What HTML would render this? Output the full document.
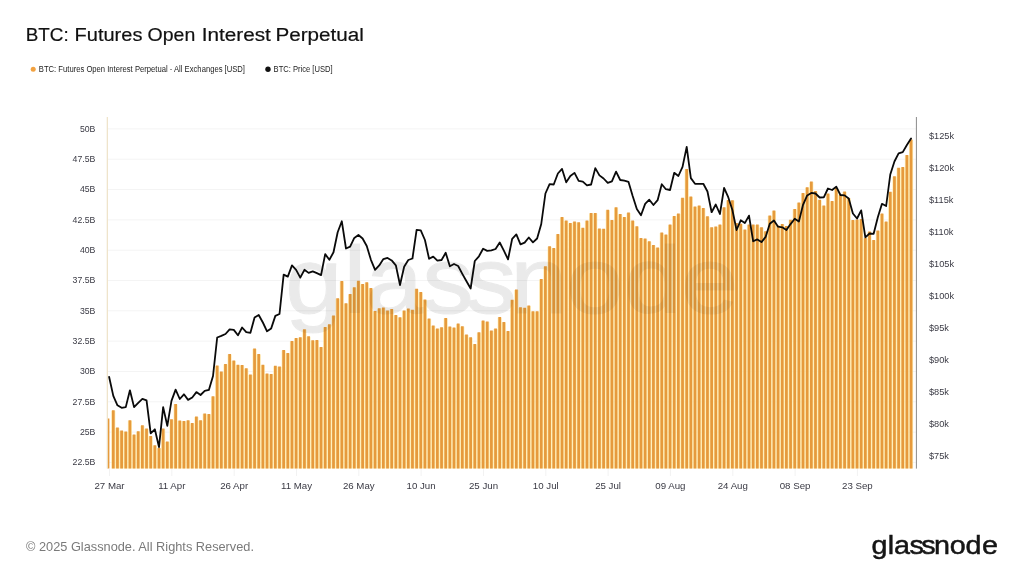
<!DOCTYPE html>
<html lang="en"><head><meta charset="utf-8"><title>BTC: Futures Open Interest Perpetual</title>
<style>html,body{margin:0;padding:0;background:#fff}body{width:1024px;height:576px;overflow:hidden;font-family:"Liberation Sans",sans-serif}svg{display:block}text{font-family:"Liberation Sans",sans-serif}</style></head><body>
<svg width="1024" height="576" viewBox="0 0 1024 576">
<rect width="1024" height="576" fill="#ffffff"/>
<text y="40.9" font-size="19.2" fill="#111111" stroke="#111111" stroke-width="0.2"><tspan x="25.75" textLength="42.9" lengthAdjust="spacingAndGlyphs">BTC:</tspan> <tspan x="74.6" textLength="67.8" lengthAdjust="spacingAndGlyphs">Futures</tspan> <tspan x="147.6" textLength="47.7" lengthAdjust="spacingAndGlyphs">Open</tspan> <tspan x="201.7" textLength="69.2" lengthAdjust="spacingAndGlyphs">Interest</tspan> <tspan x="275.4" textLength="88.4" lengthAdjust="spacingAndGlyphs">Perpetual</tspan></text>
<circle cx="33.2" cy="69.2" r="2.5" fill="#F2A241"/>
<text x="38.8" y="72.1" font-size="8.4" fill="#1c1c1c" textLength="206.2" lengthAdjust="spacingAndGlyphs">BTC: Futures Open Interest Perpetual - All Exchanges [USD]</text>
<circle cx="268.0" cy="69.2" r="2.7" fill="#111111"/>
<text x="273.6" y="72.1" font-size="8.4" fill="#1c1c1c" textLength="59" lengthAdjust="spacingAndGlyphs">BTC: Price [USD]</text>
<g stroke="#f4f4f4" stroke-width="1">
<line x1="108" y1="128.9" x2="916" y2="128.9"/>
<line x1="108" y1="159.2" x2="916" y2="159.2"/>
<line x1="108" y1="189.5" x2="916" y2="189.5"/>
<line x1="108" y1="219.9" x2="916" y2="219.9"/>
<line x1="108" y1="250.2" x2="916" y2="250.2"/>
<line x1="108" y1="280.5" x2="916" y2="280.5"/>
<line x1="108" y1="310.8" x2="916" y2="310.8"/>
<line x1="108" y1="341.1" x2="916" y2="341.1"/>
<line x1="108" y1="371.5" x2="916" y2="371.5"/>
<line x1="108" y1="401.8" x2="916" y2="401.8"/>
<line x1="108" y1="432.1" x2="916" y2="432.1"/>
<line x1="108" y1="462.4" x2="916" y2="462.4"/>
</g>
<g font-size="9.2" fill="#3a3a44" text-anchor="end">
<text x="95.4" y="131.7" textLength="15.5" lengthAdjust="spacingAndGlyphs">50B</text>
<text x="95.4" y="162.0" textLength="22.8" lengthAdjust="spacingAndGlyphs">47.5B</text>
<text x="95.4" y="192.3" textLength="15.5" lengthAdjust="spacingAndGlyphs">45B</text>
<text x="95.4" y="222.7" textLength="22.8" lengthAdjust="spacingAndGlyphs">42.5B</text>
<text x="95.4" y="253.0" textLength="15.5" lengthAdjust="spacingAndGlyphs">40B</text>
<text x="95.4" y="283.3" textLength="22.8" lengthAdjust="spacingAndGlyphs">37.5B</text>
<text x="95.4" y="313.6" textLength="15.5" lengthAdjust="spacingAndGlyphs">35B</text>
<text x="95.4" y="343.9" textLength="22.8" lengthAdjust="spacingAndGlyphs">32.5B</text>
<text x="95.4" y="374.3" textLength="15.5" lengthAdjust="spacingAndGlyphs">30B</text>
<text x="95.4" y="404.6" textLength="22.8" lengthAdjust="spacingAndGlyphs">27.5B</text>
<text x="95.4" y="434.9" textLength="15.5" lengthAdjust="spacingAndGlyphs">25B</text>
<text x="95.4" y="465.2" textLength="22.8" lengthAdjust="spacingAndGlyphs">22.5B</text>
</g>
<g font-size="9.2" fill="#3a3a44">
<text x="929" y="139.2">$125k</text>
<text x="929" y="171.2">$120k</text>
<text x="929" y="203.1">$115k</text>
<text x="929" y="235.1">$110k</text>
<text x="929" y="267.0">$105k</text>
<text x="929" y="298.9">$100k</text>
<text x="929" y="330.9">$95k</text>
<text x="929" y="362.9">$90k</text>
<text x="929" y="394.8">$85k</text>
<text x="929" y="426.8">$80k</text>
<text x="929" y="458.7">$75k</text>
</g>
<g font-size="9.7" fill="#3a3a44" text-anchor="middle">
<text x="109.5" y="488.9">27 Mar</text>
<text x="171.8" y="488.9">11 Apr</text>
<text x="234.2" y="488.9">26 Apr</text>
<text x="296.5" y="488.9">11 May</text>
<text x="358.8" y="488.9">26 May</text>
<text x="421.1" y="488.9">10 Jun</text>
<text x="483.5" y="488.9">25 Jun</text>
<text x="545.8" y="488.9">10 Jul</text>
<text x="608.1" y="488.9">25 Jul</text>
<text x="670.4" y="488.9">09 Aug</text>
<text x="732.8" y="488.9">24 Aug</text>
<text x="795.1" y="488.9">08 Sep</text>
<text x="857.4" y="488.9">23 Sep</text>
</g>
<g stroke="#f2f2f2" stroke-width="1">
<line x1="109.5" y1="469" x2="109.5" y2="476"/>
<line x1="171.8" y1="469" x2="171.8" y2="476"/>
<line x1="234.2" y1="469" x2="234.2" y2="476"/>
<line x1="296.5" y1="469" x2="296.5" y2="476"/>
<line x1="358.8" y1="469" x2="358.8" y2="476"/>
<line x1="421.1" y1="469" x2="421.1" y2="476"/>
<line x1="483.5" y1="469" x2="483.5" y2="476"/>
<line x1="545.8" y1="469" x2="545.8" y2="476"/>
<line x1="608.1" y1="469" x2="608.1" y2="476"/>
<line x1="670.4" y1="469" x2="670.4" y2="476"/>
<line x1="732.8" y1="469" x2="732.8" y2="476"/>
<line x1="795.1" y1="469" x2="795.1" y2="476"/>
<line x1="857.4" y1="469" x2="857.4" y2="476"/>
</g>
<g opacity="0.022"><text transform="scale(1.08,1)" x="264.08 318.06 338.68 391.08 430.89 472.47 524.34 578.07 630.82" y="312.6" font-size="95" fill="#000" stroke="#000" stroke-width="1.2">glassnode</text></g>
<path fill="#FFE9A0" fill-opacity="0.7" d="M111.22 468.4V410.8h4.155V468.4ZM115.38 468.4V428.0h4.155V468.4ZM119.53 468.4V431.0h4.155V468.4ZM123.69 468.4V432.0h4.155V468.4ZM127.84 468.4V420.8h4.155V468.4ZM132.00 468.4V435.1h4.155V468.4ZM136.15 468.4V431.8h4.155V468.4ZM140.31 468.4V425.8h4.155V468.4ZM144.46 468.4V428.9h4.155V468.4ZM148.62 468.4V436.4h4.155V468.4ZM152.77 468.4V445.8h4.155V468.4ZM156.93 468.4V448.5h4.155V468.4ZM161.08 468.4V428.9h4.155V468.4ZM165.24 468.4V442.0h4.155V468.4ZM169.39 468.4V419.8h4.155V468.4ZM173.55 468.4V404.5h4.155V468.4ZM177.70 468.4V421.1h4.155V468.4ZM181.86 468.4V421.6h4.155V468.4ZM186.01 468.4V420.8h4.155V468.4ZM190.17 468.4V423.5h4.155V468.4ZM194.32 468.4V417.0h4.155V468.4ZM198.48 468.4V420.8h4.155V468.4ZM202.63 468.4V413.9h4.155V468.4ZM206.79 468.4V414.5h4.155V468.4ZM210.94 468.4V396.7h4.155V468.4ZM215.10 468.4V365.9h4.155V468.4ZM219.25 468.4V372.1h4.155V468.4ZM223.41 468.4V364.6h4.155V468.4ZM227.56 468.4V354.6h4.155V468.4ZM231.72 468.4V360.9h4.155V468.4ZM235.87 468.4V365.3h4.155V468.4ZM240.03 468.4V365.6h4.155V468.4ZM244.18 468.4V368.8h4.155V468.4ZM248.34 468.4V375.0h4.155V468.4ZM252.49 468.4V349.0h4.155V468.4ZM256.65 468.4V354.6h4.155V468.4ZM260.80 468.4V365.3h4.155V468.4ZM264.96 468.4V374.0h4.155V468.4ZM269.11 468.4V374.4h4.155V468.4ZM273.27 468.4V366.3h4.155V468.4ZM277.42 468.4V366.9h4.155V468.4ZM281.58 468.4V350.5h4.155V468.4ZM285.73 468.4V353.6h4.155V468.4ZM289.89 468.4V341.5h4.155V468.4ZM294.04 468.4V338.5h4.155V468.4ZM298.20 468.4V337.7h4.155V468.4ZM302.35 468.4V329.8h4.155V468.4ZM306.51 468.4V336.7h4.155V468.4ZM310.66 468.4V340.7h4.155V468.4ZM314.82 468.4V340.5h4.155V468.4ZM318.97 468.4V347.5h4.155V468.4ZM323.13 468.4V327.5h4.155V468.4ZM327.28 468.4V324.8h4.155V468.4ZM331.44 468.4V316.0h4.155V468.4ZM335.59 468.4V298.8h4.155V468.4ZM339.75 468.4V281.5h4.155V468.4ZM343.90 468.4V303.8h4.155V468.4ZM348.06 468.4V294.6h4.155V468.4ZM352.21 468.4V287.8h4.155V468.4ZM356.37 468.4V281.3h4.155V468.4ZM360.52 468.4V284.6h4.155V468.4ZM364.68 468.4V282.8h4.155V468.4ZM368.83 468.4V288.5h4.155V468.4ZM372.99 468.4V311.6h4.155V468.4ZM377.14 468.4V308.8h4.155V468.4ZM381.30 468.4V307.9h4.155V468.4ZM385.45 468.4V311.0h4.155V468.4ZM389.61 468.4V309.4h4.155V468.4ZM393.76 468.4V315.6h4.155V468.4ZM397.92 468.4V317.8h4.155V468.4ZM402.07 468.4V310.9h4.155V468.4ZM406.23 468.4V309.0h4.155V468.4ZM410.38 468.4V310.3h4.155V468.4ZM414.54 468.4V289.2h4.155V468.4ZM418.69 468.4V292.5h4.155V468.4ZM422.85 468.4V299.9h4.155V468.4ZM427.00 468.4V319.0h4.155V468.4ZM431.16 468.4V326.1h4.155V468.4ZM435.31 468.4V329.0h4.155V468.4ZM439.47 468.4V327.8h4.155V468.4ZM443.62 468.4V318.6h4.155V468.4ZM447.78 468.4V327.0h4.155V468.4ZM451.93 468.4V328.0h4.155V468.4ZM456.09 468.4V324.0h4.155V468.4ZM460.24 468.4V326.8h4.155V468.4ZM464.40 468.4V335.1h4.155V468.4ZM468.55 468.4V337.8h4.155V468.4ZM472.71 468.4V344.5h4.155V468.4ZM476.86 468.4V332.8h4.155V468.4ZM481.02 468.4V321.1h4.155V468.4ZM485.17 468.4V322.0h4.155V468.4ZM489.33 468.4V330.9h4.155V468.4ZM493.48 468.4V328.9h4.155V468.4ZM497.64 468.4V317.4h4.155V468.4ZM501.79 468.4V322.4h4.155V468.4ZM505.95 468.4V331.5h4.155V468.4ZM510.10 468.4V300.3h4.155V468.4ZM514.26 468.4V289.9h4.155V468.4ZM518.41 468.4V307.8h4.155V468.4ZM522.57 468.4V308.3h4.155V468.4ZM526.72 468.4V305.9h4.155V468.4ZM530.88 468.4V311.8h4.155V468.4ZM535.03 468.4V311.8h4.155V468.4ZM539.19 468.4V279.5h4.155V468.4ZM543.34 468.4V266.8h4.155V468.4ZM547.50 468.4V246.8h4.155V468.4ZM551.65 468.4V248.6h4.155V468.4ZM555.81 468.4V234.5h4.155V468.4ZM559.96 468.4V217.4h4.155V468.4ZM564.12 468.4V221.1h4.155V468.4ZM568.27 468.4V223.4h4.155V468.4ZM572.43 468.4V222.1h4.155V468.4ZM576.58 468.4V222.8h4.155V468.4ZM580.74 468.4V228.3h4.155V468.4ZM584.89 468.4V221.1h4.155V468.4ZM589.05 468.4V213.6h4.155V468.4ZM593.20 468.4V213.6h4.155V468.4ZM597.36 468.4V229.0h4.155V468.4ZM601.51 468.4V229.3h4.155V468.4ZM605.67 468.4V210.3h4.155V468.4ZM609.82 468.4V220.5h4.155V468.4ZM613.98 468.4V207.8h4.155V468.4ZM618.13 468.4V214.6h4.155V468.4ZM622.29 468.4V217.4h4.155V468.4ZM626.44 468.4V213.0h4.155V468.4ZM630.60 468.4V221.1h4.155V468.4ZM634.75 468.4V226.8h4.155V468.4ZM638.91 468.4V238.6h4.155V468.4ZM643.06 468.4V238.9h4.155V468.4ZM647.22 468.4V241.8h4.155V468.4ZM651.37 468.4V245.5h4.155V468.4ZM655.53 468.4V247.9h4.155V468.4ZM659.68 468.4V233.0h4.155V468.4ZM663.84 468.4V234.9h4.155V468.4ZM667.99 468.4V224.9h4.155V468.4ZM672.15 468.4V216.5h4.155V468.4ZM676.30 468.4V213.9h4.155V468.4ZM680.46 468.4V198.2h4.155V468.4ZM684.61 468.4V169.5h4.155V468.4ZM688.77 468.4V197.1h4.155V468.4ZM692.92 468.4V207.1h4.155V468.4ZM697.08 468.4V206.1h4.155V468.4ZM701.23 468.4V208.6h4.155V468.4ZM705.39 468.4V216.8h4.155V468.4ZM709.54 468.4V227.8h4.155V468.4ZM713.70 468.4V227.1h4.155V468.4ZM717.85 468.4V224.9h4.155V468.4ZM722.01 468.4V207.8h4.155V468.4ZM726.16 468.4V200.5h4.155V468.4ZM730.32 468.4V200.8h4.155V468.4ZM734.47 468.4V223.5h4.155V468.4ZM738.63 468.4V224.3h4.155V468.4ZM742.78 468.4V229.9h4.155V468.4ZM746.94 468.4V224.9h4.155V468.4ZM751.09 468.4V224.9h4.155V468.4ZM755.25 468.4V224.9h4.155V468.4ZM759.40 468.4V227.8h4.155V468.4ZM763.56 468.4V231.8h4.155V468.4ZM767.71 468.4V215.9h4.155V468.4ZM771.87 468.4V210.9h4.155V468.4ZM776.02 468.4V226.0h4.155V468.4ZM780.18 468.4V224.6h4.155V468.4ZM784.33 468.4V226.5h4.155V468.4ZM788.49 468.4V220.3h4.155V468.4ZM792.64 468.4V209.6h4.155V468.4ZM796.80 468.4V203.1h4.155V468.4ZM800.95 468.4V193.4h4.155V468.4ZM805.11 468.4V187.8h4.155V468.4ZM809.26 468.4V182.1h4.155V468.4ZM813.42 468.4V191.5h4.155V468.4ZM817.57 468.4V200.3h4.155V468.4ZM821.73 468.4V205.9h4.155V468.4ZM825.88 468.4V194.0h4.155V468.4ZM830.04 468.4V201.5h4.155V468.4ZM834.19 468.4V188.4h4.155V468.4ZM838.35 468.4V195.3h4.155V468.4ZM842.50 468.4V192.1h4.155V468.4ZM846.66 468.4V198.4h4.155V468.4ZM850.81 468.4V220.5h4.155V468.4ZM854.97 468.4V220.0h4.155V468.4ZM859.12 468.4V219.6h4.155V468.4ZM863.28 468.4V238.6h4.155V468.4ZM867.43 468.4V232.1h4.155V468.4ZM871.59 468.4V240.5h4.155V468.4ZM875.74 468.4V230.9h4.155V468.4ZM879.90 468.4V214.0h4.155V468.4ZM884.05 468.4V222.1h4.155V468.4ZM888.21 468.4V192.3h4.155V468.4ZM892.36 468.4V176.8h4.155V468.4ZM896.52 468.4V168.3h4.155V468.4ZM900.67 468.4V167.6h4.155V468.4ZM904.83 468.4V155.5h4.155V468.4ZM908.98 468.4V140.1h4.155V468.4Z"/>
<path fill="#E69A3C" d="M107.6 468.4V418.4H109.4V468.4ZM111.92 468.4V410.3h2.75V468.4ZM116.08 468.4V427.5h2.75V468.4ZM120.23 468.4V430.5h2.75V468.4ZM124.39 468.4V431.5h2.75V468.4ZM128.54 468.4V420.3h2.75V468.4ZM132.70 468.4V434.6h2.75V468.4ZM136.85 468.4V431.3h2.75V468.4ZM141.01 468.4V425.3h2.75V468.4ZM145.16 468.4V428.4h2.75V468.4ZM149.32 468.4V435.9h2.75V468.4ZM153.47 468.4V445.3h2.75V468.4ZM157.63 468.4V448.0h2.75V468.4ZM161.78 468.4V428.4h2.75V468.4ZM165.94 468.4V441.5h2.75V468.4ZM170.09 468.4V419.3h2.75V468.4ZM174.25 468.4V404.0h2.75V468.4ZM178.41 468.4V420.6h2.75V468.4ZM182.56 468.4V421.1h2.75V468.4ZM186.72 468.4V420.3h2.75V468.4ZM190.87 468.4V423.0h2.75V468.4ZM195.03 468.4V416.5h2.75V468.4ZM199.18 468.4V420.3h2.75V468.4ZM203.34 468.4V413.4h2.75V468.4ZM207.49 468.4V414.0h2.75V468.4ZM211.64 468.4V396.2h2.75V468.4ZM215.80 468.4V365.4h2.75V468.4ZM219.95 468.4V371.6h2.75V468.4ZM224.11 468.4V364.1h2.75V468.4ZM228.26 468.4V354.1h2.75V468.4ZM232.42 468.4V360.4h2.75V468.4ZM236.57 468.4V364.8h2.75V468.4ZM240.73 468.4V365.1h2.75V468.4ZM244.88 468.4V368.3h2.75V468.4ZM249.04 468.4V374.5h2.75V468.4ZM253.19 468.4V348.5h2.75V468.4ZM257.35 468.4V354.1h2.75V468.4ZM261.50 468.4V364.8h2.75V468.4ZM265.66 468.4V373.5h2.75V468.4ZM269.81 468.4V373.9h2.75V468.4ZM273.97 468.4V365.8h2.75V468.4ZM278.12 468.4V366.4h2.75V468.4ZM282.28 468.4V350.0h2.75V468.4ZM286.44 468.4V353.1h2.75V468.4ZM290.59 468.4V341.0h2.75V468.4ZM294.75 468.4V338.0h2.75V468.4ZM298.90 468.4V337.2h2.75V468.4ZM303.06 468.4V329.3h2.75V468.4ZM307.21 468.4V336.2h2.75V468.4ZM311.37 468.4V340.2h2.75V468.4ZM315.52 468.4V340.0h2.75V468.4ZM319.68 468.4V347.0h2.75V468.4ZM323.83 468.4V327.0h2.75V468.4ZM327.99 468.4V324.3h2.75V468.4ZM332.14 468.4V315.5h2.75V468.4ZM336.30 468.4V298.3h2.75V468.4ZM340.45 468.4V281.0h2.75V468.4ZM344.61 468.4V303.3h2.75V468.4ZM348.76 468.4V294.1h2.75V468.4ZM352.92 468.4V287.3h2.75V468.4ZM357.07 468.4V280.8h2.75V468.4ZM361.23 468.4V284.1h2.75V468.4ZM365.38 468.4V282.3h2.75V468.4ZM369.54 468.4V288.0h2.75V468.4ZM373.69 468.4V311.1h2.75V468.4ZM377.85 468.4V308.3h2.75V468.4ZM382.00 468.4V307.4h2.75V468.4ZM386.16 468.4V310.5h2.75V468.4ZM390.31 468.4V308.9h2.75V468.4ZM394.47 468.4V315.1h2.75V468.4ZM398.62 468.4V317.3h2.75V468.4ZM402.78 468.4V310.4h2.75V468.4ZM406.93 468.4V308.5h2.75V468.4ZM411.09 468.4V309.8h2.75V468.4ZM415.24 468.4V288.7h2.75V468.4ZM419.40 468.4V292.0h2.75V468.4ZM423.55 468.4V299.4h2.75V468.4ZM427.71 468.4V318.5h2.75V468.4ZM431.86 468.4V325.6h2.75V468.4ZM436.02 468.4V328.5h2.75V468.4ZM440.17 468.4V327.3h2.75V468.4ZM444.33 468.4V318.1h2.75V468.4ZM448.48 468.4V326.5h2.75V468.4ZM452.64 468.4V327.5h2.75V468.4ZM456.79 468.4V323.5h2.75V468.4ZM460.95 468.4V326.3h2.75V468.4ZM465.10 468.4V334.6h2.75V468.4ZM469.26 468.4V337.3h2.75V468.4ZM473.41 468.4V344.0h2.75V468.4ZM477.57 468.4V332.3h2.75V468.4ZM481.72 468.4V320.6h2.75V468.4ZM485.88 468.4V321.5h2.75V468.4ZM490.03 468.4V330.4h2.75V468.4ZM494.19 468.4V328.4h2.75V468.4ZM498.34 468.4V316.9h2.75V468.4ZM502.50 468.4V321.9h2.75V468.4ZM506.65 468.4V331.0h2.75V468.4ZM510.80 468.4V299.8h2.75V468.4ZM514.96 468.4V289.4h2.75V468.4ZM519.12 468.4V307.3h2.75V468.4ZM523.27 468.4V307.8h2.75V468.4ZM527.42 468.4V305.4h2.75V468.4ZM531.58 468.4V311.3h2.75V468.4ZM535.74 468.4V311.3h2.75V468.4ZM539.89 468.4V279.0h2.75V468.4ZM544.04 468.4V266.3h2.75V468.4ZM548.20 468.4V246.3h2.75V468.4ZM552.36 468.4V248.1h2.75V468.4ZM556.51 468.4V234.0h2.75V468.4ZM560.66 468.4V216.9h2.75V468.4ZM564.82 468.4V220.6h2.75V468.4ZM568.98 468.4V222.9h2.75V468.4ZM573.13 468.4V221.6h2.75V468.4ZM577.28 468.4V222.3h2.75V468.4ZM581.44 468.4V227.8h2.75V468.4ZM585.60 468.4V220.6h2.75V468.4ZM589.75 468.4V213.1h2.75V468.4ZM593.90 468.4V213.1h2.75V468.4ZM598.06 468.4V228.5h2.75V468.4ZM602.22 468.4V228.8h2.75V468.4ZM606.37 468.4V209.8h2.75V468.4ZM610.52 468.4V220.0h2.75V468.4ZM614.68 468.4V207.3h2.75V468.4ZM618.84 468.4V214.1h2.75V468.4ZM622.99 468.4V216.9h2.75V468.4ZM627.14 468.4V212.5h2.75V468.4ZM631.30 468.4V220.6h2.75V468.4ZM635.46 468.4V226.3h2.75V468.4ZM639.61 468.4V238.1h2.75V468.4ZM643.76 468.4V238.4h2.75V468.4ZM647.92 468.4V241.3h2.75V468.4ZM652.07 468.4V245.0h2.75V468.4ZM656.23 468.4V247.4h2.75V468.4ZM660.38 468.4V232.5h2.75V468.4ZM664.54 468.4V234.4h2.75V468.4ZM668.69 468.4V224.4h2.75V468.4ZM672.85 468.4V216.0h2.75V468.4ZM677.00 468.4V213.4h2.75V468.4ZM681.16 468.4V197.7h2.75V468.4ZM685.31 468.4V169.0h2.75V468.4ZM689.47 468.4V196.6h2.75V468.4ZM693.62 468.4V206.6h2.75V468.4ZM697.78 468.4V205.6h2.75V468.4ZM701.93 468.4V208.1h2.75V468.4ZM706.09 468.4V216.3h2.75V468.4ZM710.25 468.4V227.3h2.75V468.4ZM714.40 468.4V226.6h2.75V468.4ZM718.55 468.4V224.4h2.75V468.4ZM722.71 468.4V207.3h2.75V468.4ZM726.87 468.4V200.0h2.75V468.4ZM731.02 468.4V200.3h2.75V468.4ZM735.17 468.4V223.0h2.75V468.4ZM739.33 468.4V223.8h2.75V468.4ZM743.49 468.4V229.4h2.75V468.4ZM747.64 468.4V224.4h2.75V468.4ZM751.79 468.4V224.4h2.75V468.4ZM755.95 468.4V224.4h2.75V468.4ZM760.11 468.4V227.3h2.75V468.4ZM764.26 468.4V231.3h2.75V468.4ZM768.41 468.4V215.4h2.75V468.4ZM772.57 468.4V210.4h2.75V468.4ZM776.73 468.4V225.5h2.75V468.4ZM780.88 468.4V224.1h2.75V468.4ZM785.03 468.4V226.0h2.75V468.4ZM789.19 468.4V219.8h2.75V468.4ZM793.35 468.4V209.1h2.75V468.4ZM797.50 468.4V202.6h2.75V468.4ZM801.65 468.4V192.9h2.75V468.4ZM805.81 468.4V187.3h2.75V468.4ZM809.97 468.4V181.6h2.75V468.4ZM814.12 468.4V191.0h2.75V468.4ZM818.27 468.4V199.8h2.75V468.4ZM822.43 468.4V205.4h2.75V468.4ZM826.59 468.4V193.5h2.75V468.4ZM830.74 468.4V201.0h2.75V468.4ZM834.89 468.4V187.9h2.75V468.4ZM839.05 468.4V194.8h2.75V468.4ZM843.21 468.4V191.6h2.75V468.4ZM847.36 468.4V197.9h2.75V468.4ZM851.51 468.4V220.0h2.75V468.4ZM855.67 468.4V219.5h2.75V468.4ZM859.83 468.4V219.1h2.75V468.4ZM863.98 468.4V238.1h2.75V468.4ZM868.13 468.4V231.6h2.75V468.4ZM872.29 468.4V240.0h2.75V468.4ZM876.45 468.4V230.4h2.75V468.4ZM880.60 468.4V213.5h2.75V468.4ZM884.75 468.4V221.6h2.75V468.4ZM888.91 468.4V191.8h2.75V468.4ZM893.07 468.4V176.3h2.75V468.4ZM897.22 468.4V167.8h2.75V468.4ZM901.38 468.4V167.1h2.75V468.4ZM905.53 468.4V155.0h2.75V468.4ZM909.68 468.4V139.6h2.75V468.4Z"/>
<g opacity="0.05"><text transform="scale(1.08,1)" x="264.08 318.06 338.68 391.08 430.89 472.47 524.34 578.07 630.82" y="312.6" font-size="95" fill="#000" stroke="#000" stroke-width="1.2">glassnode</text></g>
<line x1="107.3" y1="117" x2="107.3" y2="468.6" stroke="#ecdfc2" stroke-width="1.1"/>
<line x1="916.4" y1="117" x2="916.4" y2="468.6" stroke="#8a8a8a" stroke-width="1"/>
<polyline fill="none" stroke="#0a0a0a" stroke-width="1.8" stroke-linejoin="round" stroke-linecap="round" points="109.14,377.0 113.30,395.9 117.45,405.3 121.61,407.8 125.77,407.1 129.92,390.3 134.07,407.1 138.23,402.8 142.38,398.8 146.54,400.3 150.69,433.4 154.85,429.3 159.00,447.1 163.16,407.1 167.31,425.9 171.47,400.9 175.62,389.6 179.78,399.0 183.94,394.3 188.09,399.9 192.25,397.5 196.40,392.1 200.56,395.0 204.71,390.9 208.87,389.9 213.02,376.0 217.18,337.5 221.33,335.9 225.49,334.0 229.64,329.3 233.80,329.9 237.95,335.3 242.11,327.5 246.26,332.1 250.42,332.8 254.57,317.5 258.73,315.0 262.88,322.5 267.04,331.3 271.19,328.4 275.35,315.9 279.50,314.0 283.66,274.6 287.81,276.6 291.97,265.4 296.12,269.8 300.28,277.6 304.43,269.8 308.59,272.9 312.74,271.4 316.89,273.1 321.05,275.1 325.20,254.1 329.36,259.8 333.51,252.3 337.67,232.3 341.82,221.3 345.98,248.5 350.13,246.6 354.29,237.9 358.44,235.0 362.60,238.5 366.75,246.0 370.91,259.8 375.07,269.8 379.22,265.4 383.38,259.1 387.53,257.9 391.69,260.4 395.84,265.3 400.00,285.0 404.15,266.8 408.31,260.0 412.46,258.5 416.62,229.8 420.77,230.3 424.93,240.0 429.08,258.8 433.24,256.6 437.39,260.6 441.55,260.0 445.70,252.8 449.86,266.3 454.01,264.0 458.17,266.0 462.32,273.8 466.48,281.3 470.63,288.5 474.79,261.0 478.94,256.3 483.10,248.8 487.25,250.9 491.41,250.4 495.56,249.0 499.72,242.5 503.87,250.6 508.03,259.4 512.18,238.8 516.34,234.4 520.49,244.4 524.64,242.6 528.80,237.5 532.96,242.4 537.11,238.5 541.26,224.0 545.42,193.5 549.58,184.1 553.73,184.5 557.88,173.5 562.04,168.9 566.20,182.3 570.35,176.0 574.50,172.9 578.66,180.8 582.82,181.6 586.97,185.4 591.12,184.5 595.28,168.1 599.44,175.4 603.59,178.5 607.75,182.9 611.90,181.4 616.06,171.6 620.21,180.0 624.37,180.6 628.52,181.9 632.67,196.0 636.83,209.0 640.99,215.2 645.14,203.9 649.29,199.7 653.45,205.0 657.61,200.2 661.76,184.2 665.91,189.2 670.07,190.0 674.23,172.8 678.38,176.0 682.53,166.9 686.69,146.9 690.85,178.1 695.00,183.8 699.15,183.8 703.31,183.8 707.47,191.5 711.62,212.2 715.77,204.5 719.93,214.0 724.09,187.8 728.24,197.2 732.39,210.0 736.55,230.0 740.71,220.3 744.86,223.1 749.01,215.6 753.17,241.3 757.33,239.4 761.48,242.1 765.63,236.9 769.79,223.8 773.95,220.5 778.10,226.7 782.25,227.3 786.41,230.0 790.56,224.1 794.72,218.8 798.88,221.6 803.03,204.8 807.18,195.4 811.34,192.9 815.50,193.5 819.65,197.5 823.80,197.3 827.96,188.5 832.12,190.0 836.27,186.6 840.42,195.0 844.58,195.4 848.74,198.5 852.89,213.5 857.04,218.5 861.20,210.4 865.36,237.3 869.51,233.5 873.66,233.8 877.82,217.3 881.98,203.8 886.13,206.0 890.28,174.5 894.44,161.5 898.60,153.4 902.75,152.1 906.90,145.0 911.06,138.4"/>
<text x="26" y="550.5" font-size="12.4" fill="#7a7a7a" textLength="228" lengthAdjust="spacingAndGlyphs">© 2025 Glassnode. All Rights Reserved.</text>
<text transform="scale(1.08,1)" x="806.88 822.01 827.87 842.05 853.06 864.81 879.30 894.10 909.20" y="553.9" font-size="26.6" fill="#151515" stroke="#151515" stroke-width="0.5">glassnode</text>
</svg></body></html>
